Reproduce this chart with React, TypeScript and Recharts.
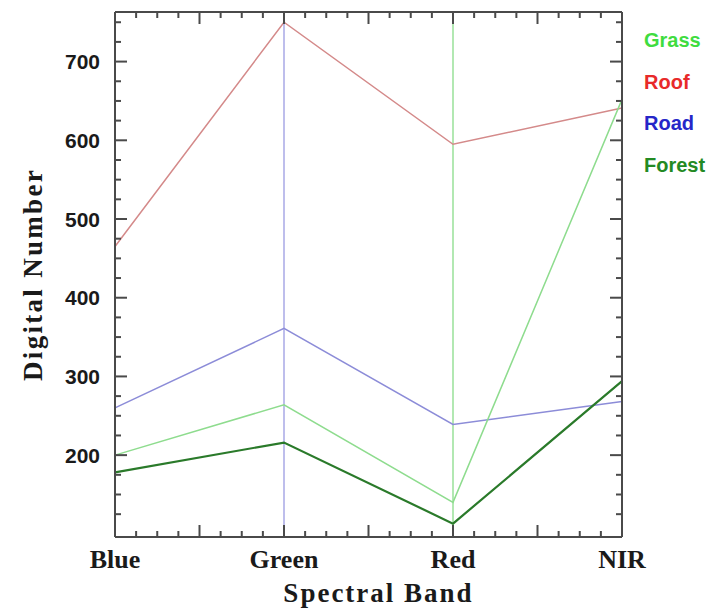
import React from 'react';
import { LineChart, Line, XAxis, YAxis, ReferenceLine } from 'recharts';

const bands = ['Blue', 'Green', 'Red', 'NIR'];
const grass = [200, 264, 140, 652];
const roof = [465, 750, 595, 641];
const road = [260, 361, 239, 268];
const forest = [178, 216, 113, 294];

const yLabels = [200, 300, 400, 500, 600, 700];
const yMinorStep = 25;
const yDomain: [number, number] = [96, 763];
const xMinorStep = 0.125;

const legendItems = [
  { name: 'Grass', color: '#3fdc3f' },
  { name: 'Roof', color: '#e82a2a' },
  { name: 'Road', color: '#2626c8' },
  { name: 'Forest', color: '#238a23' },
];

const data = bands.map((b, i) => ({
  x: i,
  band: b,
  grass: grass[i],
  roof: roof[i],
  road: road[i],
  forest: forest[i],
}));

const xTicks: number[] = [];
for (let v = 0; v <= 3 + 1e-9; v += xMinorStep) xTicks.push(Math.round(v * 1000) / 1000);
const yTicks: number[] = [];
for (let v = 125; v <= 750; v += yMinorStep) yTicks.push(v);

const FRAME = '#4a4a4a';
const serif = '"Liberation Serif", "Times New Roman", serif';
const sans = '"Liberation Sans", Arial, sans-serif';

const isMajorX = (v: number) => Math.abs(v * 2 - Math.round(v * 2)) < 1e-6;
const isMajorY = (v: number) => v % 100 === 0;

const BottomTick = (props: any) => {
  const { x, y, payload } = props;
  const v = payload.value;
  const len = isMajorX(v) ? 12 : 6;
  const isCat = Math.abs(v - Math.round(v)) < 1e-6;
  return (
    <g>
      <line x1={x} x2={x} y1={y} y2={y - len} stroke={FRAME} strokeWidth={2} />
      {isCat && (
        <text x={x} y={y + 31} textAnchor="middle" fontFamily={serif} fontWeight="bold" fontSize={26} fill="#1a1a1a">
          {bands[Math.round(v)]}
        </text>
      )}
    </g>
  );
};

const TopTick = (props: any) => {
  const { x, y, payload } = props;
  const len = isMajorX(payload.value) ? 12 : 6;
  return <line x1={x} x2={x} y1={y} y2={y + len} stroke={FRAME} strokeWidth={2} />;
};

const LeftTick = (props: any) => {
  const { x, y, payload } = props;
  const v = payload.value;
  const len = isMajorY(v) ? 12 : 6;
  return (
    <g>
      <line x1={x} x2={x + len} y1={y} y2={y} stroke={FRAME} strokeWidth={2} />
      {yLabels.includes(v) && (
        <text x={x - 15} y={y} dy="0.36em" textAnchor="end" fontFamily={sans} fontWeight="bold" fontSize={21} fill="#1a1a1a">
          {v}
        </text>
      )}
    </g>
  );
};

const RightTick = (props: any) => {
  const { x, y, payload } = props;
  const len = isMajorY(payload.value) ? 12 : 6;
  return <line x1={x} x2={x - len} y1={y} y2={y} stroke={FRAME} strokeWidth={2} />;
};

const YTitle = (props: any) => {
  const vb = props.viewBox || { x: 0, y: 12, width: 115, height: 525 };
  const cx = vb.x + 33;
  const cy = vb.y + vb.height / 2;
  return (
    <text
      x={cx}
      y={cy}
      transform={`rotate(-90 ${cx} ${cy})`}
      textAnchor="middle"
      dy="0.35em"
      fontFamily={serif}
      fontWeight="bold"
      fontSize={27}
      letterSpacing={2.3}
      fill="#1a1a1a"
    >
      Digital Number
    </text>
  );
};

const XTitle = (props: any) => {
  const vb = props.viewBox || { x: 115, y: 537, width: 507, height: 74 };
  const cx = vb.x + vb.width / 2 + 10;
  return (
    <text x={cx} y={vb.y + 65} textAnchor="middle" fontFamily={serif} fontWeight="bold" fontSize={27} letterSpacing={2} fill="#1a1a1a">
      Spectral Band
    </text>
  );
};

export default function App() {
  return (
    <div style={{ position: 'absolute', left: 0, top: 0, width: 710, height: 611, background: '#fff' }}>
      <LineChart width={710} height={611} data={data} margin={{ top: 11, right: 87, bottom: 0, left: 0 }}>
        <XAxis
          dataKey="x"
          type="number"
          domain={[0, 3]}
          ticks={xTicks}
          interval={0}
          tickSize={0}
          tickMargin={0}
          tick={<BottomTick />}
          height={74}
          axisLine={{ stroke: FRAME, strokeWidth: 2 }}
          label={<XTitle />}
          allowDecimals
        />
        <XAxis
          xAxisId="top"
          orientation="top"
          dataKey="x"
          type="number"
          domain={[0, 3]}
          ticks={xTicks}
          interval={0}
          tickSize={0}
          tickMargin={0}
          tick={<TopTick />}
          height={1}
          axisLine={{ stroke: FRAME, strokeWidth: 2 }}
          allowDecimals
        />
        <YAxis
          type="number"
          domain={yDomain}
          allowDataOverflow
          ticks={yTicks}
          interval={0}
          tickSize={0}
          tickMargin={0}
          tick={<LeftTick />}
          width={115}
          axisLine={{ stroke: FRAME, strokeWidth: 2 }}
          label={<YTitle />}
        />
        <YAxis
          yAxisId="right"
          orientation="right"
          type="number"
          domain={yDomain}
          allowDataOverflow
          ticks={yTicks}
          interval={0}
          tickSize={0}
          tickMargin={0}
          tick={<RightTick />}
          width={1}
          axisLine={{ stroke: FRAME, strokeWidth: 2 }}
        />
        <ReferenceLine x={1} stroke="#a9a9e6" strokeWidth={1.5} />
        <ReferenceLine x={2} stroke="#b2e8b2" strokeWidth={2} />
        <Line dataKey="roof" stroke="#d48a8a" strokeWidth={1.5} dot={false} isAnimationActive={false} />
        <Line dataKey="road" stroke="#8c8cd8" strokeWidth={1.5} dot={false} isAnimationActive={false} />
        <Line dataKey="grass" stroke="#8edc8e" strokeWidth={1.5} dot={false} isAnimationActive={false} />
        <Line dataKey="forest" stroke="#2a7a2a" strokeWidth={2.2} dot={false} isAnimationActive={false} />
      </LineChart>
      <div style={{ position: 'absolute', left: 644, top: 27 }}>
        {legendItems.map((it) => (
          <div
            key={it.name}
            style={{
              fontFamily: sans,
              fontWeight: 'bold',
              fontSize: 20,
              color: it.color,
              height: 41.5,
              lineHeight: '26px',
            }}
          >
            {it.name}
          </div>
        ))}
      </div>
    </div>
  );
}
